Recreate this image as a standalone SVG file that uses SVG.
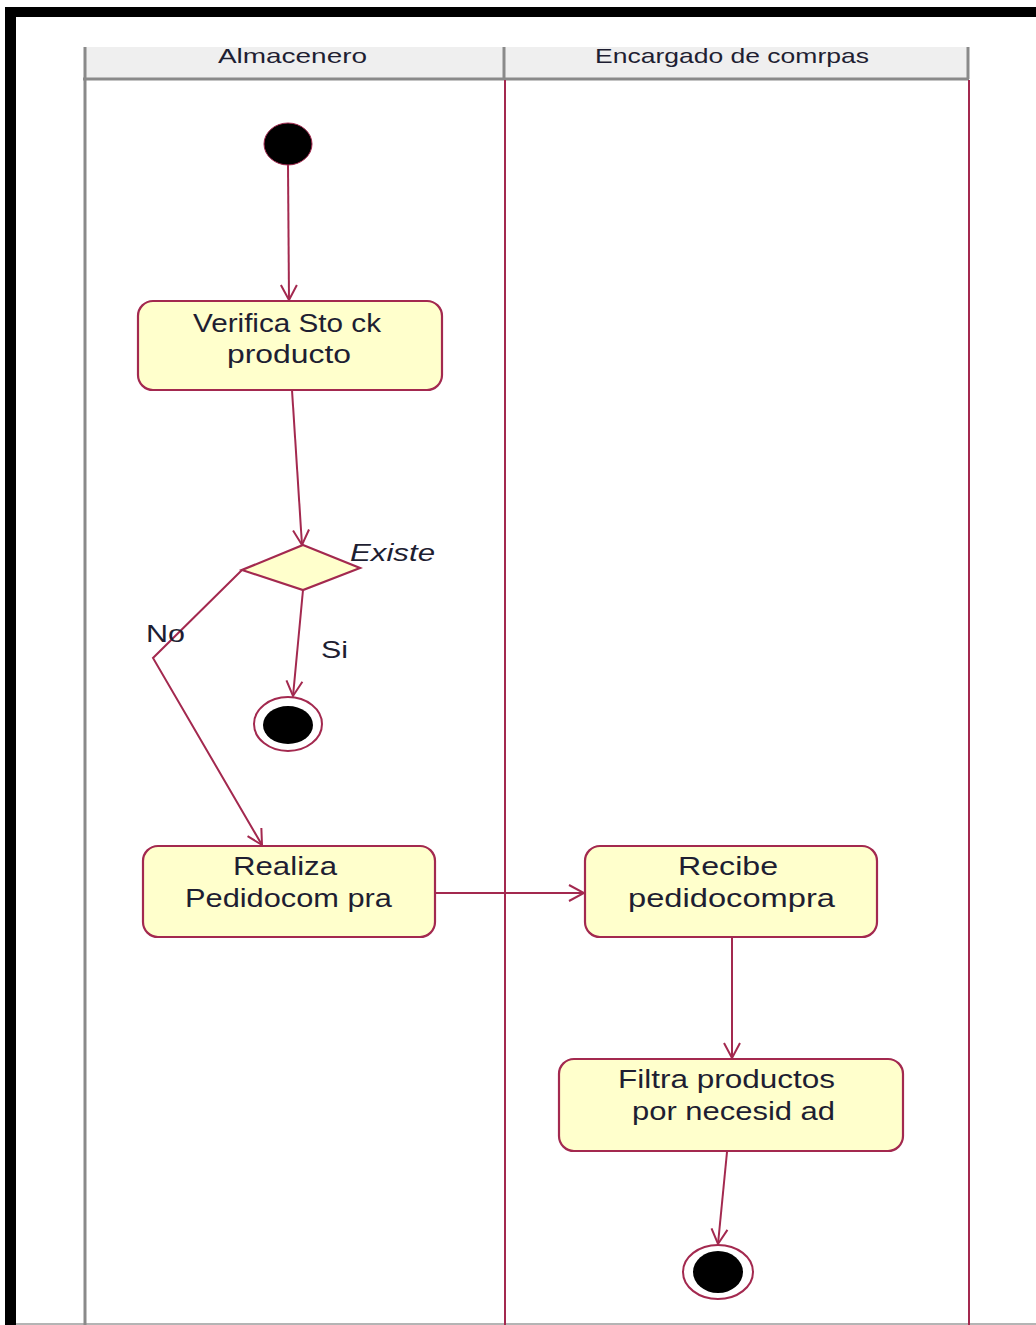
<svg xmlns="http://www.w3.org/2000/svg" width="1036" height="1325" viewBox="0 0 1036 1325">
  <style>
    .lanehead { fill: #efefef; stroke: none; }
    .laneedge { stroke: #8a8a8a; stroke-width: 3; fill: none; }
    .lanediv { stroke: #a3294f; stroke-width: 2; fill: none; }
    .act { fill: #ffffcc; stroke: #a3294f; stroke-width: 2.2; }
    .dec { fill: #ffffcc; stroke: #a3294f; stroke-width: 2.2; }
    .edge { fill: none; stroke: #a3294f; stroke-width: 2; }
    .txt { font-family: "Liberation Sans", Arial, sans-serif; font-size: 26px; fill: #1e1e32; }
    .head { font-family: "Liberation Sans", Arial, sans-serif; font-size: 21px; fill: #1e1e32; }
    .lbl { font-family: "Liberation Sans", Arial, sans-serif; font-size: 24px; fill: #1e1e32; }
  </style>
  <defs>
    <marker id="open" viewBox="-17 -10 19 20" refX="0" refY="0" markerWidth="19" markerHeight="20" markerUnits="userSpaceOnUse" orient="auto">
      <path d="M-15,-8 L0,0 L-15,8" fill="none" stroke="#a3294f" stroke-width="2"/>
    </marker>
  </defs>

  <rect x="0" y="0" width="1036" height="1325" fill="#ffffff"/>

  <!-- outer frame -->
  <g id="frame">
    <rect x="5" y="7" width="1031" height="10" fill="#000000"/>
    <rect x="5" y="7" width="11" height="1318" fill="#000000"/>
    <line x1="16" y1="1324" x2="1036" y2="1324" stroke="#b4b4b4" stroke-width="2"/>
  </g>

  <!-- swimlanes -->
  <g id="lanes">
    <rect class="lanehead" x="84" y="47" width="884" height="31"/>
    <line class="laneedge" x1="83" y1="79" x2="969" y2="79"/>
    <line class="laneedge" x1="85" y1="47" x2="85" y2="1325"/>
    <line class="laneedge" x1="504" y1="47" x2="504" y2="79"/>
    <line class="laneedge" x1="968" y1="47" x2="968" y2="79"/>
    <line class="lanediv" x1="505" y1="80" x2="505" y2="1325"/>
    <line class="lanediv" x1="969" y1="80" x2="969" y2="1325"/>
    <text class="head" x="218" y="63" textLength="149" lengthAdjust="spacingAndGlyphs">Almacenero</text>
    <text class="head" x="595" y="63" textLength="274" lengthAdjust="spacingAndGlyphs">Encargado de comrpas</text>
  </g>

  <!-- transitions -->
  <g id="connectors">
    <path class="edge" d="M288,165 L289,300" marker-end="url(#open)"/>
    <path class="edge" d="M292,390 L302,545" marker-end="url(#open)"/>
    <path class="edge" d="M303,590 L293,696" marker-end="url(#open)"/>
    <path class="edge" d="M242,570 L153,658 L262,845" marker-end="url(#open)"/>
    <path class="edge" d="M435,893 L584,893" marker-end="url(#open)"/>
    <path class="edge" d="M732,937 L732,1058" marker-end="url(#open)"/>
    <path class="edge" d="M727,1152 L718,1244" marker-end="url(#open)"/>
    <text class="lbl" x="350" y="561" font-style="italic" textLength="85" lengthAdjust="spacingAndGlyphs">Existe</text>
    <text class="lbl" x="321" y="658" textLength="27" lengthAdjust="spacingAndGlyphs">Si</text>
    <text class="lbl" x="146" y="642" textLength="39" lengthAdjust="spacingAndGlyphs">No</text>
  </g>

  <!-- nodes -->
  <g id="start">
    <ellipse cx="288" cy="144" rx="24" ry="21" fill="#000000" stroke="#a3294f" stroke-width="1"/>
  </g>

  <g id="verifica">
    <rect class="act" x="138" y="301" width="304" height="89" rx="15" ry="15"/>
    <text class="txt" x="193" y="332" textLength="188" lengthAdjust="spacingAndGlyphs">Verifica Sto ck</text>
    <text class="txt" x="227" y="363" textLength="124" lengthAdjust="spacingAndGlyphs">producto</text>
  </g>

  <g id="decision">
    <polygon class="dec" points="303,545 360,568 303,590 242,570"/>
  </g>

  <g id="end1">
    <ellipse cx="288" cy="724" rx="34" ry="27" fill="#ffffff" stroke="#a3294f" stroke-width="2"/>
    <ellipse cx="288" cy="725" rx="25" ry="19" fill="#000000"/>
  </g>

  <g id="realiza">
    <rect class="act" x="143" y="846" width="292" height="91" rx="15" ry="15"/>
    <text class="txt" x="233" y="875" textLength="104" lengthAdjust="spacingAndGlyphs">Realiza</text>
    <text class="txt" x="185" y="907" textLength="207" lengthAdjust="spacingAndGlyphs">Pedidocom pra</text>
  </g>

  <g id="recibe">
    <rect class="act" x="585" y="846" width="292" height="91" rx="15" ry="15"/>
    <text class="txt" x="678" y="875" textLength="100" lengthAdjust="spacingAndGlyphs">Recibe</text>
    <text class="txt" x="628" y="907" textLength="207" lengthAdjust="spacingAndGlyphs">pedidocompra</text>
  </g>

  <g id="filtra">
    <rect class="act" x="559" y="1059" width="344" height="92" rx="15" ry="15"/>
    <text class="txt" x="618" y="1088" textLength="217" lengthAdjust="spacingAndGlyphs">Filtra productos</text>
    <text class="txt" x="632" y="1120" textLength="203" lengthAdjust="spacingAndGlyphs">por necesid ad</text>
  </g>

  <g id="end2">
    <ellipse cx="718" cy="1272" rx="35" ry="27" fill="#ffffff" stroke="#a3294f" stroke-width="2"/>
    <ellipse cx="718" cy="1272" rx="25" ry="21" fill="#000000"/>
  </g>
</svg>
